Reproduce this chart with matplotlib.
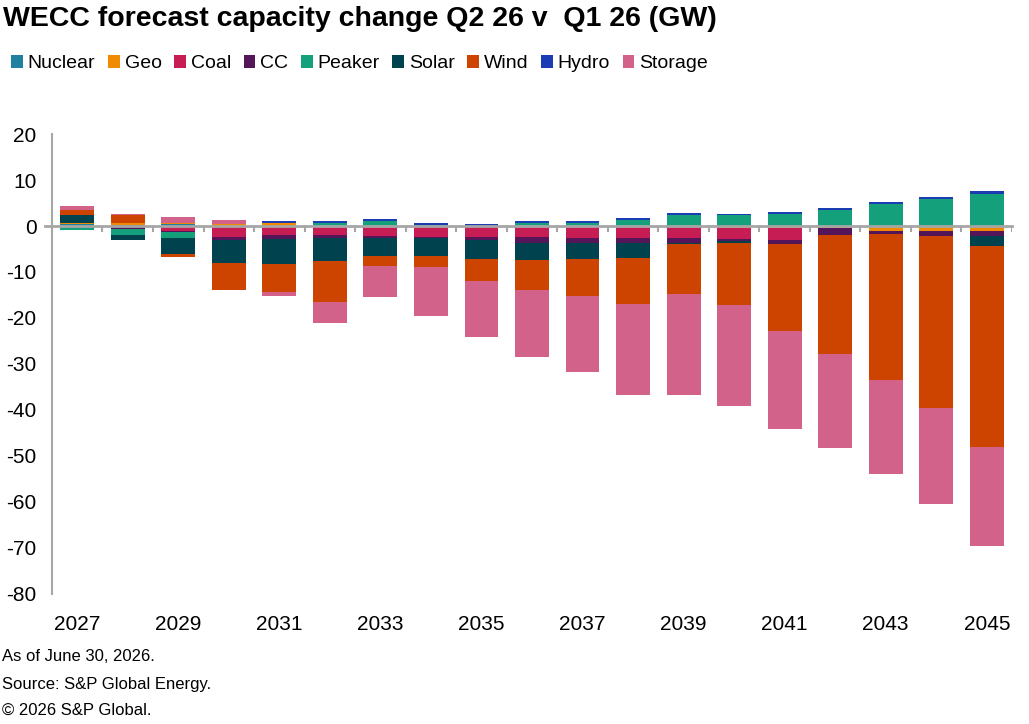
import matplotlib
matplotlib.use("Agg")
import matplotlib.pyplot as plt
from matplotlib.patches import Patch
import numpy as np

plt.rcParams['font.family'] = ['Liberation Sans', 'DejaVu Sans']
plt.rcParams['axes.unicode_minus'] = False

years = list(range(2027, 2046))
series_names = ["Nuclear", "Geo", "Coal", "CC", "Peaker", "Solar", "Wind", "Hydro", "Storage"]
colors = ["#1f80a0", "#f08a00", "#c61d55", "#541659", "#13a07a", "#00434f", "#cc4400", "#1c3cb4", "#d3628a"]

nuclear = [0.4, 0.3, 0.4, 0, 0, 0, 0, 0, 0, 0, 0, 0, 0, 0, 0, 0, 0, 0, 0]
geo     = [0.3, 0.3, 0.3, 0.4, 0.6, 0, 0, 0, 0, 0, 0, 0, -0.3, -0.35, -0.4, -0.5, -1.0, -1.0, -1.0]
coal    = [0, 0, -1.1, -2.3, -1.9, -1.9, -2.2, -2.3, -2.4, -2.4, -2.7, -2.7, -2.4, -2.55, -2.7, 0, 0, 0, 0]
cc      = [0, -0.6, -0.2, -0.7, -0.9, -0.7, -0.4, -0.3, -0.7, -1.2, -0.9, -0.9, -0.9, -0.4, -0.85, -1.35, -0.8, -1.25, -1.25]
peaker  = [-0.9, -1.3, -1.2, 0, 0, 0.6, 1.0, 0.15, 0.1, 0.6, 0.6, 1.35, 2.4, 2.3, 2.65, 3.5, 4.7, 5.85, 7.05]
solar   = [1.8, -1.2, -3.5, -5.15, -5.4, -5.1, -4.0, -3.9, -4.1, -3.8, -3.6, -3.25, -0.4, -0.3, 0, 0, 0, 0, -2.0]
wind    = [1.0, 1.8, -0.8, -5.75, -6.2, -8.8, -2.0, -2.4, -4.7, -6.6, -8.0, -10.0, -10.8, -13.6, -18.8, -25.9, -31.7, -37.3, -43.8]
hydro   = [0, 0, 0, 0, 0.4, 0.4, 0.45, 0.4, 0.4, 0.4, 0.4, 0.4, 0.4, 0.4, 0.45, 0.4, 0.5, 0.5, 0.5]
storage = [0.8, 0.3, 1.2, 1.0, -0.8, -4.5, -6.8, -10.6, -12.3, -14.5, -16.6, -20.0, -22.0, -22.0, -21.3, -20.6, -20.5, -20.9, -21.5]

data = [nuclear, geo, coal, cc, peaker, solar, wind, hydro, storage]

fig = plt.figure(figsize=(10.29, 7.24), dpi=100)
ax = fig.add_axes([0.0505, 0.1796, 0.933, 0.6353])

x = np.arange(len(years))
pos_base = np.zeros(len(years))
neg_base = np.zeros(len(years))
for name, vals, col in zip(series_names, data, colors):
    v = np.array(vals, dtype=float)
    bottom = np.where(v >= 0, pos_base, neg_base)
    ax.bar(x, v, bottom=bottom, width=0.67, color=col, edgecolor='none', zorder=2)
    pos_base = pos_base + np.where(v > 0, v, 0)
    neg_base = neg_base + np.where(v < 0, v, 0)

ax.set_xlim(-0.5, len(years) - 0.5)
ax.set_ylim(-80, 20)
ax.set_yticks(np.arange(-80, 21, 10))
ax.tick_params(axis='y', length=0, pad=11, labelsize=15)
ax.set_xticks(x[::2])
ax.set_xticklabels([str(y) for y in years[::2]])
ax.tick_params(axis='x', length=0, pad=15, labelsize=15)

for s in ['top', 'right', 'bottom']:
    ax.spines[s].set_visible(False)
ax.spines['left'].set_color('#a6a6a6')
ax.spines['left'].set_linewidth(1.5)

ax.axhline(0, xmin=-0.007, xmax=1, color='#a6a6a6', lw=2, zorder=3, clip_on=False)
bounds = np.arange(-0.5, len(years), 1.0)[1:]
ax.vlines(bounds, -1.4, 0, color='#a6a6a6', lw=1.5, zorder=3)

fig.text(0.003, 0.974, "WECC forecast capacity change Q2 26 v  Q1 26 (GW)", fontsize=20.5,
         fontweight='bold', va='center', ha='left')

handles = [Patch(facecolor=c, edgecolor='none') for c in colors]
fig.legend(handles, series_names, loc='center left', bbox_to_anchor=(0.011, 0.912),
           ncol=9, frameon=False, fontsize=14, handlelength=0.6, handleheight=0.6,
           handletextpad=0.25, columnspacing=0.65, borderaxespad=0, borderpad=0)

fig.text(0.002, 0.093, "As of June 30, 2026.", fontsize=12, va='center', ha='left')
fig.text(0.002, 0.055, "Source: S&P Global Energy.", fontsize=12, va='center', ha='left')
fig.text(0.002, 0.019, "\u00a9 2026 S&P Global.", fontsize=12, va='center', ha='left')

fig.savefig("out.png", dpi=100)
